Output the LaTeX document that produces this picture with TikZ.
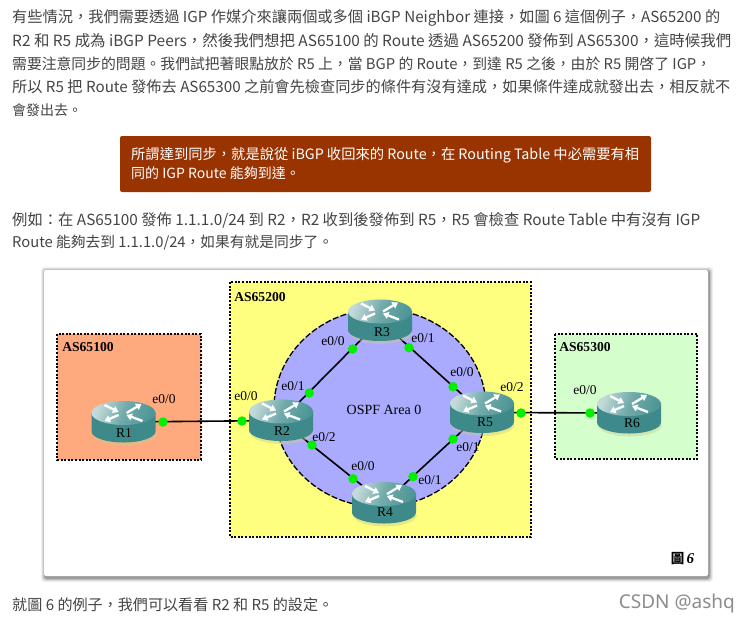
\documentclass[tikz,border=0pt]{standalone}
\usepackage{fontspec}
\setmainfont{Noto Sans CJK TC}
\newfontfamily\diagfont{Liberation Serif}
\newfontfamily\cjkfig{Noto Sans CJK TC}
\newfontfamily\wmfont{Noto Sans}
\usetikzlibrary{arrows.meta}
\definecolor{bodytext}{HTML}{444444}
\definecolor{boxred}{HTML}{993300}
\definecolor{asorange}{HTML}{FFA97F}
\definecolor{asyellow}{HTML}{FFFF7F}
\definecolor{asgreen}{HTML}{D4FFCC}
\definecolor{ospfblue}{HTML}{AAAAFF}
\definecolor{teal1}{HTML}{3E8A8A}
\definecolor{teal2}{HTML}{C4DADA}
\definecolor{teal3}{HTML}{4E9696}
\definecolor{dotgreen}{HTML}{00F000}
\tikzset{
  x=1pt,y=-1pt,
  para/.style={anchor=west,inner sep=0pt,text=bodytext,font=\fontsize{14}{14}\selectfont},
  note/.style={anchor=west,inner sep=0pt,text=white,font=\fontsize{14}{14}\selectfont},
  asbox/.style={draw=black,line width=1.4pt,dash pattern=on 2pt off 1.6pt},
  aslabel/.style={inner sep=0pt,font=\diagfont\bfseries\fontsize{13.6}{13.6}\selectfont},
  iflabel/.style={inner sep=0pt,font=\diagfont\fontsize{13.5}{13.5}\selectfont},
  rlabel/.style={inner sep=0pt,font=\diagfont\fontsize{13.5}{13.5}\selectfont},
  dot/.style={circle,fill=dotgreen,inner sep=0pt,minimum size=9.5pt},
  link/.style={draw=black,line width=1.6pt},
  routerbox/.style={inner sep=0pt,minimum width=64pt,minimum height=42pt},
  flow/.style={white,line width=2.3pt,-{Triangle[width=7pt,length=5.5pt]}},
}
\newcommand{\routerart}[1]{%
  \begin{scope}[shift={(#1.center)}]
    \fill[black!45!yellow!50!white,opacity=.45] (-31,12) -- (33,12) -- (33,12) arc[start angle=0,end angle=180,x radius=32,y radius=11.5] -- cycle;
    \fill[teal1] (-32,-9) -- (32,-9) -- (32,9.5) arc[start angle=0,end angle=180,x radius=32,y radius=11] -- cycle;
    \shade[left color=teal2,right color=teal3,middle color=teal3!70!teal2,shading angle=70] (0,-9) ellipse[x radius=32,y radius=12];
    \draw[flow] (3,-9) -- (18,-18);
    \draw[flow] (-19,-17) -- (-5,-10);
    \draw[flow] (-5,-7) -- (-19,-1);
    \draw[flow] (19,-1) -- (3,-7);
  \end{scope}}
\begin{document}
\begin{tikzpicture}
\useasboundingbox (0,0) rectangle (750,625);
\fill[white] (0,0) rectangle (750,625);
% paragraph
\node[para] (p1) at (12,18) {\resizebox{708pt}{!}{有些情況，我們需要透過 IGP 作媒介來讓兩個或多個 iBGP Neighbor 連接，如圖 6 這個例子，AS65200 的}};
\node[para] (p2) at (12,41) {\resizebox{719pt}{!}{R2 和 R5 成為 iBGP Peers，然後我們想把 AS65100 的 Route 透過 AS65200 發佈到 AS65300，這時候我們}};
\node[para] (p3) at (12,64) {\resizebox{699pt}{!}{需要注意同步的問題。我們試把著眼點放於 R5 上，當 BGP 的 Route，到達 R5 之後，由於 R5 開啓了 IGP，}};
\node[para] (p4) at (12,87) {\resizebox{718pt}{!}{所以 R5 把 Route 發佈去 AS65300 之前會先檢查同步的條件有沒有達成，如果條件達成就發出去，相反就不}};
\node[para] (p5) at (12,110) {會發出去。};
% note box
\fill[boxred,rounded corners=2pt] (120,136) rectangle (651,192);
\node[note] (n1) at (131,155) {\resizebox{508pt}{!}{所謂達到同步，就是說從 iBGP 收回來的 Route，在 Routing Table 中必需要有相}};
\node[note] (n2) at (131,173) {同的 IGP Route 能夠到達。};
% example
\node[para] (e1) at (12,220) {\resizebox{688pt}{!}{例如：在 AS65100 發佈 1.1.1.0/24 到 R2，R2 收到後發佈到 R5，R5 會檢查 Route Table 中有沒有 IGP}};
\node[para] (e2) at (12,243) {\resizebox{321pt}{!}{Route 能夠去到 1.1.1.0/24，如果有就是同步了。}};
% figure card
\foreach \g/\o in {4/.06,3/.08,2/.12,1/.2}
  \fill[black,opacity=\o,rounded corners=3pt] (45-\g,271-\g) rectangle (709+\g,578+\g);
\fill[white,rounded corners=2pt] (44,270) rectangle (708,576);
% areas
\fill[asorange] (57,334) rectangle (201,460);
\draw[asbox] (57,334) rectangle (201,460);
\fill[asyellow] (230,282) rectangle (531,537);
\draw[asbox] (230,282) rectangle (531,537);
\fill[asgreen] (555,334) rectangle (697,459);
\draw[asbox] (555,334) rectangle (697,459);
\draw[fill=ospfblue,line width=1.3pt,dash pattern=on 6pt off 2.2pt] (380,408) ellipse[x radius=106,y radius=99];
% routers
\node[routerbox] (R1) at (123.5,422) {};
\node[routerbox] (R2) at (281,420.5) {};
\node[routerbox] (R3) at (380,320.5) {};
\node[routerbox] (R4) at (384,503) {};
\node[routerbox] (R5) at (482,412.5) {};
\node[routerbox] (R6) at (629,413) {};
% links
\draw[link] (R1.center) -- (R2.center);
\draw[link] (R2.center) -- (R3.center);
\draw[link] (R2.center) -- (R4.center);
\draw[link] (R3.center) -- (R5.center);
\draw[link] (R4.center) -- (R5.center);
\draw[link] (R5.center) -- (R6.center);
\routerart{R1}\routerart{R2}\routerart{R3}\routerart{R4}\routerart{R5}\routerart{R6}
\node[rlabel] (tR1) at (124,433) {R1};
\node[rlabel] (tR2) at (282,431.5) {R2};
\node[rlabel] (tR3) at (382,332) {R3};
\node[rlabel] (tR4) at (385,512) {R4};
\node[rlabel] (tR5) at (485,422.5) {R5};
\node[rlabel] (tR6) at (632,423) {R6};
% interface dots
\node[dot] (d1) at (163,422) {};
\node[dot] (d2) at (242,421) {};
\node[dot] (d3) at (309.3,393) {};
\node[dot] (d4) at (352.7,349) {};
\node[dot] (d5) at (312,445) {};
\node[dot] (d6) at (353,478.7) {};
\node[dot] (d7) at (409,347.7) {};
\node[dot] (d8) at (453,386.7) {};
\node[dot] (d9) at (453,439) {};
\node[dot] (d10) at (413,476.7) {};
\node[dot] (d11) at (521,413) {};
\node[dot] (d12) at (590,413) {};
% interface labels
\node[iflabel] (l1) at (164,399) {e0/0};
\node[iflabel] (l2) at (246,396) {e0/0};
\node[iflabel] (l3) at (293,386) {e0/1};
\node[iflabel] (l4) at (333,341) {e0/0};
\node[iflabel] (l5) at (324,437) {e0/2};
\node[iflabel] (l6) at (363,466) {e0/0};
\node[iflabel] (l7) at (423,338) {e0/1};
\node[iflabel] (l8) at (462,372) {e0/0};
\node[iflabel] (l9) at (468,447) {e0/1};
\node[iflabel] (l10) at (430,480) {e0/1};
\node[iflabel] (l11) at (512,387) {e0/2};
\node[iflabel] (l12) at (585,390) {e0/0};
% area labels
\node[aslabel] (a1) at (88,347) {AS65100};
\node[aslabel] (a2) at (260,297) {AS65200};
\node[aslabel] (a3) at (585,347.5) {AS65300};
\node[inner sep=0pt,font=\diagfont\fontsize{14}{14}\selectfont] (ospf) at (384,410) {OSPF Area 0};
\node[inner sep=0pt] (fig) at (682.5,559) {{\cjkfig\bfseries\fontsize{13.5}{13.5}\selectfont 圖} {\diagfont\bfseries\itshape\fontsize{15}{15}\selectfont 6}};
% closing line and watermark
\node[para] (last) at (12,605) {\resizebox{321pt}{!}{就圖 6 的例子，我們可以看看 R2 和 R5 的設定。}};
\node[anchor=east,inner sep=0pt,text=black!45,font=\wmfont\fontsize{19}{19}\selectfont] (wm) at (735,604) {CSDN @ashq};
\end{tikzpicture}
\end{document}
